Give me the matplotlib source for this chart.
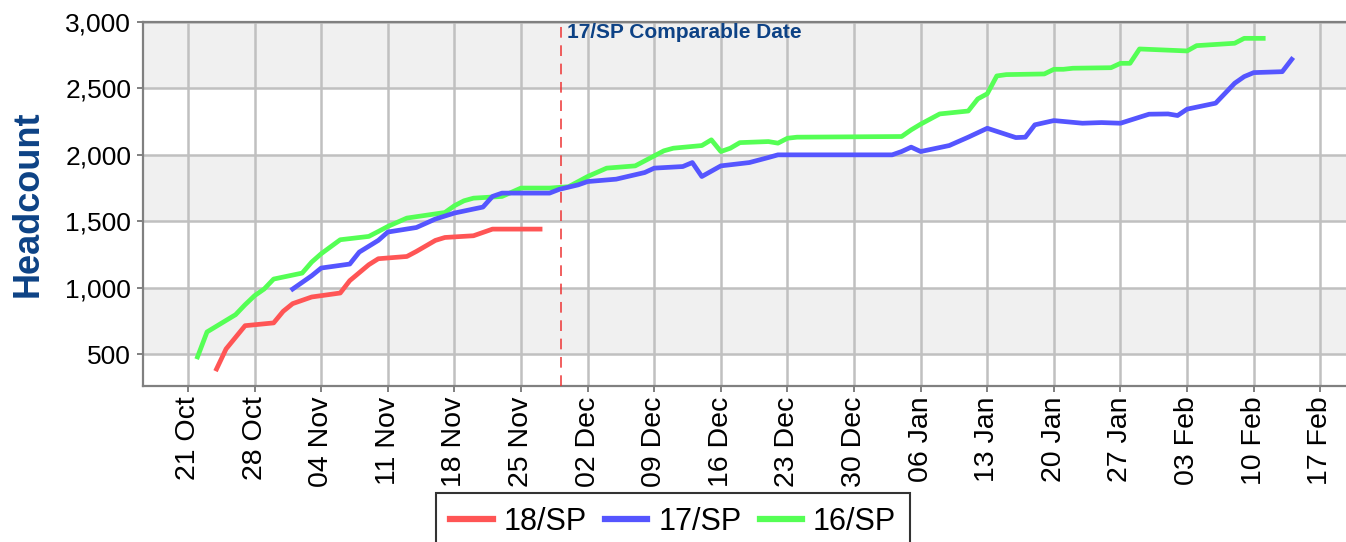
import matplotlib
matplotlib.use("Agg")
import matplotlib.pyplot as plt
import matplotlib.dates as mdates
from matplotlib.ticker import FuncFormatter
import pandas as pd

plt.rcParams['font.family'] = ['Liberation Sans', 'DejaVu Sans']

# 18/SP headcount
sp18_dates = ['2017-10-24', '2017-10-25', '2017-10-27', '2017-10-30', '2017-10-31',
              '2017-11-01', '2017-11-03', '2017-11-06', '2017-11-07', '2017-11-09',
              '2017-11-10', '2017-11-13', '2017-11-14', '2017-11-16', '2017-11-17',
              '2017-11-20', '2017-11-22', '2017-11-27']
sp18_values = [388, 539, 714, 735, 822, 880, 930, 960, 1053, 1173,
               1218, 1235, 1273, 1356, 1378, 1391, 1441, 1441]

# 17/SP headcount
sp17_dates = ['2017-11-01', '2017-11-03', '2017-11-04', '2017-11-07', '2017-11-08',
              '2017-11-10', '2017-11-11', '2017-11-14', '2017-11-16', '2017-11-18',
              '2017-11-21', '2017-11-22', '2017-11-23', '2017-11-28', '2017-11-29',
              '2017-12-01', '2017-12-02', '2017-12-05', '2017-12-08', '2017-12-09',
              '2017-12-12', '2017-12-13', '2017-12-14', '2017-12-16', '2017-12-19',
              '2017-12-21', '2017-12-22', '2018-01-03', '2018-01-04', '2018-01-05',
              '2018-01-06', '2018-01-09', '2018-01-11', '2018-01-13', '2018-01-16',
              '2018-01-17', '2018-01-18', '2018-01-20', '2018-01-23', '2018-01-25',
              '2018-01-27', '2018-01-30', '2018-02-01', '2018-02-02', '2018-02-03',
              '2018-02-06', '2018-02-08', '2018-02-09', '2018-02-10', '2018-02-13',
              '2018-02-14']
sp17_values = [990, 1090, 1148, 1178, 1268, 1356, 1419, 1453, 1517, 1562,
               1607, 1687, 1712, 1712, 1740, 1774, 1799, 1817, 1867, 1900,
               1912, 1942, 1837, 1917, 1942, 1980, 2000, 2000, 2025, 2058,
               2025, 2070, 2133, 2200, 2130, 2133, 2226, 2258, 2238, 2243,
               2238, 2306, 2308, 2296, 2344, 2389, 2539, 2589, 2619, 2626,
               2719]

# 16/SP headcount
sp16_dates = ['2017-10-22', '2017-10-23', '2017-10-26', '2017-10-27', '2017-10-28',
              '2017-10-29', '2017-10-30', '2017-11-02', '2017-11-03', '2017-11-04',
              '2017-11-06', '2017-11-09', '2017-11-10', '2017-11-11', '2017-11-13',
              '2017-11-17', '2017-11-18', '2017-11-19', '2017-11-20', '2017-11-23',
              '2017-11-25', '2017-11-28', '2017-11-30', '2017-12-02', '2017-12-04',
              '2017-12-07', '2017-12-10', '2017-12-11', '2017-12-14', '2017-12-15',
              '2017-12-16', '2017-12-17', '2017-12-18', '2017-12-21', '2017-12-22',
              '2017-12-23', '2017-12-24', '2018-01-04', '2018-01-05', '2018-01-06',
              '2018-01-08', '2018-01-11', '2018-01-12', '2018-01-13', '2018-01-14',
              '2018-01-15', '2018-01-19', '2018-01-20', '2018-01-21', '2018-01-22',
              '2018-01-26', '2018-01-27', '2018-01-28', '2018-01-29', '2018-02-03',
              '2018-02-04', '2018-02-08', '2018-02-09', '2018-02-11']
sp16_values = [479, 667, 797, 872, 940, 990, 1065, 1110, 1193, 1256,
               1361, 1386, 1423, 1461, 1524, 1566, 1617, 1654, 1674, 1687,
               1750, 1750, 1760, 1837, 1900, 1917, 2030, 2050, 2070, 2113,
               2025, 2050, 2092, 2100, 2088, 2125, 2133, 2138, 2188, 2231,
               2308, 2330, 2421, 2460, 2594, 2604, 2609, 2644, 2644, 2652,
               2656, 2689, 2689, 2797, 2782, 2822, 2840, 2877, 2877]

comparable_date = '2017-11-29 05:00'
tick_dates = pd.date_range('2017-10-21', '2018-02-17', freq='7D')
y_ticks = [500, 1000, 1500, 2000, 2500, 3000]

W, H = 1346, 542
fig = plt.figure(figsize=(W / 100, H / 100), dpi=100)
ax = fig.add_axes([143 / W, 1 - 386 / H, (W - 143) / W, (386 - 22) / H])

# alternating horizontal bands
for lo, hi in [(500, 1000), (1500, 2000), (2500, 3000)]:
    ax.axhspan(lo, hi, color='#f0f0f0', zorder=0, lw=0)

grid_kw = dict(color='#c0c0c0', lw=1.8, zorder=1)
for t in tick_dates:
    ax.axvline(t, **grid_kw)
for v in y_ticks:
    ax.axhline(v, **grid_kw)

lw = 3.4
ax.plot(pd.to_datetime(sp18_dates), sp18_values, color='#ff5555', lw=lw, label='18/SP', zorder=3)
ax.plot(pd.to_datetime(sp17_dates), sp17_values, color='#5555ff', lw=lw, label='17/SP', zorder=3)
ax.plot(pd.to_datetime(sp16_dates), sp16_values, color='#55ff55', lw=lw, label='16/SP', zorder=2.9)

cd = pd.Timestamp(comparable_date)
ax.axvline(cd, color='#ee3333', lw=1.1, ls=(0, (7, 5)), zorder=4)
ax.annotate('17/SP Comparable Date', xy=(cd, 1.0), xycoords=('data', 'axes fraction'),
            xytext=(4, -1), textcoords='offset points', ha='left', va='top',
            fontsize=15, fontweight='bold', color='#0d4285', zorder=5)

ax.set_xlim(pd.Timestamp('2017-10-21') - pd.Timedelta(days=4.73),
            pd.Timestamp('2017-10-21') + pd.Timedelta(days=121.7))
ax.set_ylim(260, 3000)
ax.set_xticks(tick_dates)
ax.xaxis.set_major_formatter(mdates.DateFormatter('%d %b'))
ax.set_yticks(y_ticks)
ax.yaxis.set_major_formatter(FuncFormatter(lambda v, p: f'{int(v):,}'))
ax.tick_params(axis='x', labelsize=20.5, rotation=90, length=4.5, width=1.4,
               color='#808080', pad=3)
ax.tick_params(axis='y', labelsize=19, length=4.5, width=1.4, color='#808080', pad=4)

for s in ['left', 'bottom', 'top']:
    ax.spines[s].set_color('#808080')
    ax.spines[s].set_linewidth(1.6)
ax.spines['right'].set_visible(False)

ax.set_ylabel('Headcount', fontsize=26, fontweight='bold', color='#0d4285', labelpad=14)

leg = fig.legend(loc='upper center', bbox_to_anchor=(0.5, 1 - 493 / H), ncol=3,
                 fontsize=22, frameon=True, fancybox=False, edgecolor='black',
                 handlelength=1.4, handletextpad=0.35, columnspacing=0.6,
                 borderpad=0.45, borderaxespad=0)
leg.get_frame().set_linewidth(1.5)
for line in leg.get_lines():
    line.set_linewidth(4.5)

fig.savefig('out.png', dpi=100)
